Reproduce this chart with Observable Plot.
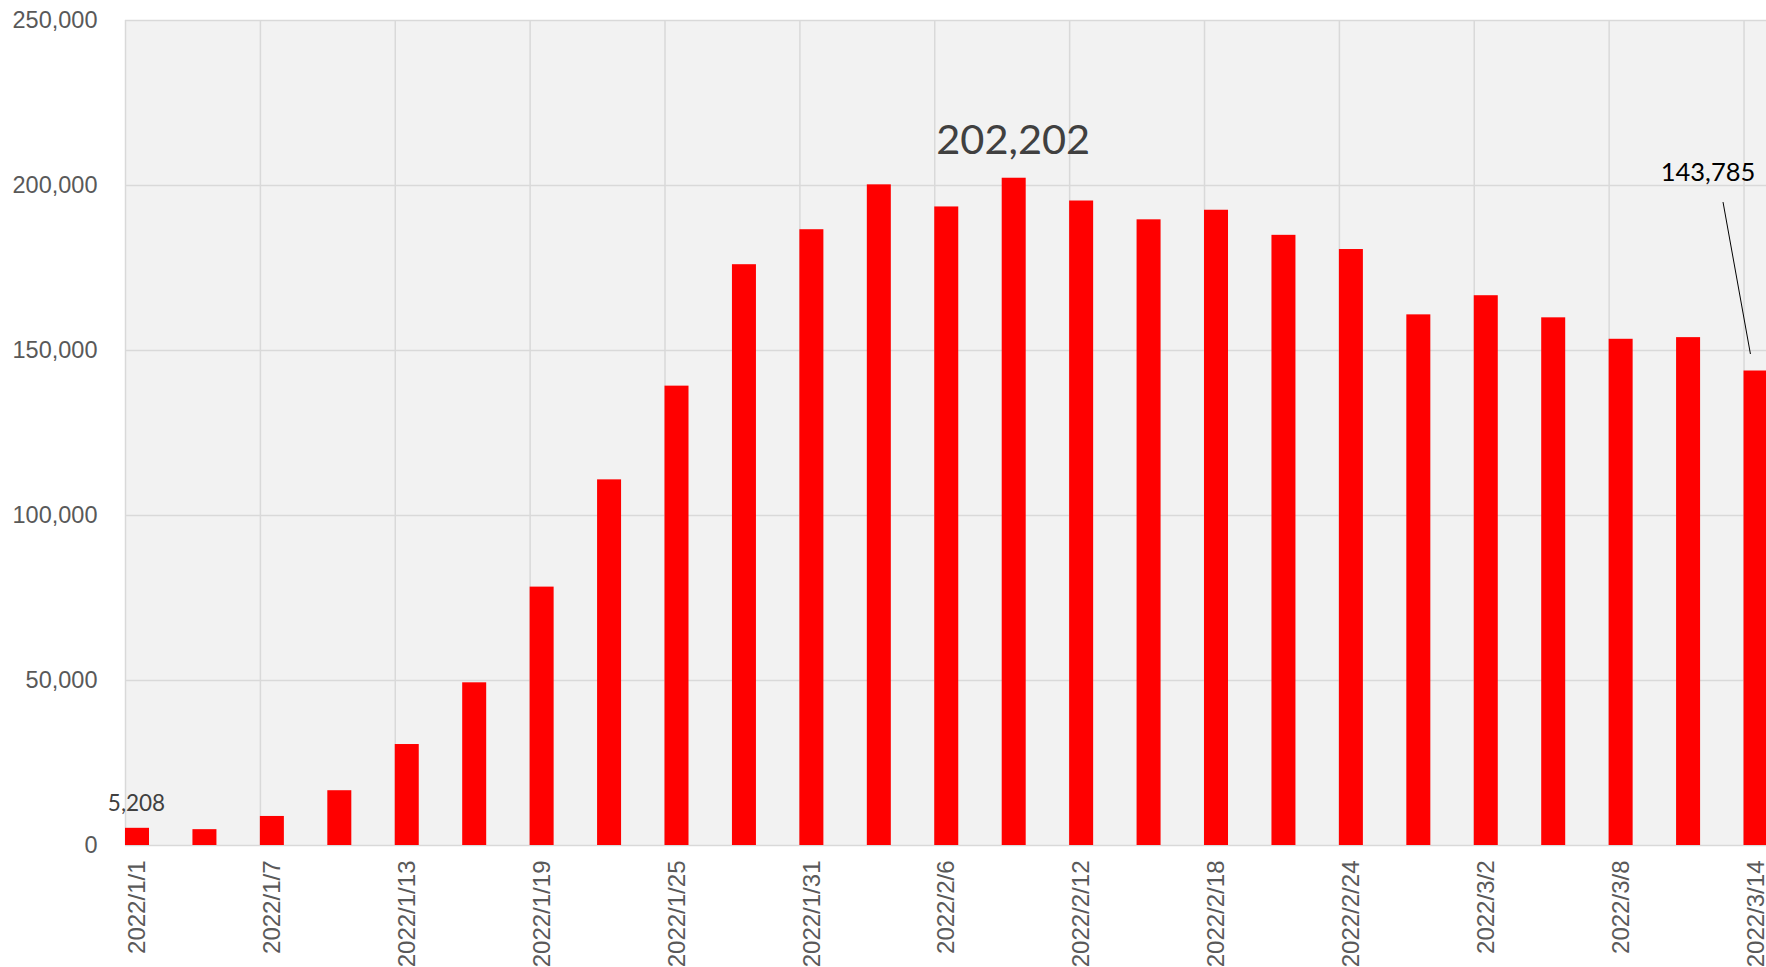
<!DOCTYPE html>
<html>
<head>
<meta charset="utf-8">
<script src="https://cdn.jsdelivr.net/npm/d3@7"></script>
<script src="https://cdn.jsdelivr.net/npm/@observablehq/plot@0.6"></script>
<style>
  html, body { margin: 0; padding: 0; background: #ffffff; }
  #chart svg { display: block; font-family: "Liberation Sans", Arial, sans-serif; }
</style>
</head>
<body>
<div id="chart"></div>
<script>
// ---- Data ----
const dates = [
  "2022-01-01","2022-01-04","2022-01-07","2022-01-10","2022-01-13","2022-01-16",
  "2022-01-19","2022-01-22","2022-01-25","2022-01-28","2022-01-31","2022-02-03",
  "2022-02-06","2022-02-09","2022-02-12","2022-02-15","2022-02-18","2022-02-21",
  "2022-02-24","2022-02-27","2022-03-02","2022-03-05","2022-03-08","2022-03-11",
  "2022-03-14"
];
const values = [
  5208, 4800, 8800, 16600, 30600, 49300,
  78300, 110800, 139200, 176000, 186600, 200200,
  193500, 202202, 195300, 189600, 192500, 184900,
  180600, 160800, 166600, 159900, 153400, 153900,
  143785
];
const xTickDates = [
  "2022-01-01","2022-01-07","2022-01-13","2022-01-19","2022-01-25","2022-01-31",
  "2022-02-06","2022-02-12","2022-02-18","2022-02-24","2022-03-02","2022-03-08",
  "2022-03-14"
];
const yTicks = [0, 50000, 100000, 150000, 200000, 250000];
const labelFirst = "2022-01-01";
const labelPeak = "2022-02-09";
const labelLast = "2022-03-14";

// ---- Build ----
const parse = d3.utcParse("%Y-%m-%d");
const DAY = 864e5;
const barDays = 1.0676;
const data = dates.map((d, i) => ({date: parse(d), value: values[i]}));
const xTicks = xTickDates.map(parse);
const xEnd = d3.utcDay.offset(parse(dates[dates.length - 1]), 1);
const mid = d => new Date(+d.date + barDays * DAY / 2);
const fmt = d3.format(",");
const dateFmt = d => `${d.getUTCFullYear()}/${d.getUTCMonth() + 1}/${d.getUTCDate()}`;
const pick = s => data.filter(d => +d.date === +parse(s));

const chart = Plot.plot({
  width: 1766,
  height: 967,
  marginLeft: 125,
  marginRight: 0,
  marginTop: 20,
  marginBottom: 122,
  x: {type: "utc", domain: [parse(dates[0]), xEnd]},
  y: {domain: [0, 250000]},
  marks: [
    Plot.frame({fill: "#f2f2f2", stroke: null}),
    Plot.ruleY(yTicks, {stroke: "#d9d9d9", strokeWidth: 1.5}),
    Plot.ruleX(xTicks, {stroke: "#d9d9d9", strokeWidth: 1.5}),
    Plot.rectY(data, {
      x1: "date",
      x2: d => new Date(+d.date + barDays * DAY),
      y: "value",
      fill: "#ff0000"
    }),
    Plot.axisY(yTicks, {
      tickSize: 0, tickPadding: 28, tickFormat: fmt,
      fontSize: 23.5, color: "#595959", label: null
    }),
    Plot.axisX(xTicks, {
      tickSize: 0, tickPadding: 15, tickRotate: -90, textAnchor: "end",
      dx: 12, tickFormat: dateFmt, fontSize: 24, color: "#595959", label: null
    }),
    Plot.text(pick(labelFirst), {
      x: mid, y: "value", text: d => fmt(d.value), lineAnchor: "bottom",
      dy: -17, dx: -1, fontSize: 22.5, fill: "#404040", fontFamily: "Lato"
    }),
    Plot.text(pick(labelPeak), {
      x: mid, y: "value", text: d => fmt(d.value), lineAnchor: "bottom",
      dy: -24, dx: -1, fontSize: 41.5, fill: "#404040", fontFamily: "Lato"
    }),
    Plot.text(pick(labelLast), {
      x: mid, y: "value", text: d => fmt(d.value), lineAnchor: "bottom",
      dy: -190, dx: -48, fontSize: 25.5, fill: "#000000", fontFamily: "Lato"
    }),
    Plot.link(pick(labelLast), {
      x1: d => new Date(+d.date - 0.934 * DAY), y1: d => d.value + 51200,
      x2: d => new Date(+d.date + 0.285 * DAY), y2: d => d.value + 5150,
      stroke: "#000000", strokeWidth: 1
    })
  ]
});
document.getElementById("chart").appendChild(chart);
</script>
</body>
</html>
